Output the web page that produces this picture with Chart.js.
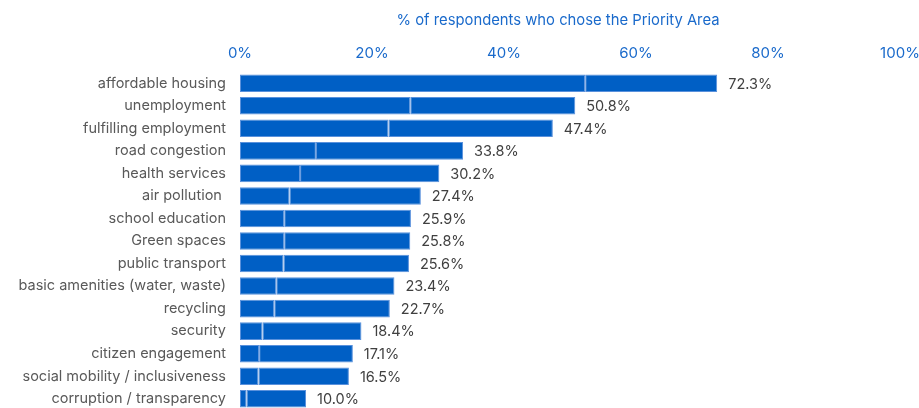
<!DOCTYPE html>
<html lang="en">
<head>
    <meta charset="UTF-8">
    <title>Priority Areas</title>
    <style>
        body { margin: 0; overflow: hidden; background: #fff; }
        #wrap { position: relative; width: 919px; height: 410px; }
    </style>
</head>
<body>
    <div id="wrap">
        <canvas id="myChart"></canvas>
    </div>
</body>
<script src="https://cdn.jsdelivr.net/npm/chart.js@4.4.0/dist/chart.umd.min.js"></script>
<script>
    var areas = ["affordable housing", "unemployment", "fulfilling employment", "road congestion",
        "health services", "air pollution ", "school education", "Green spaces", "public transport",
        "basic amenities (water, waste)", "recycling", "security", "citizen engagement",
        "social mobility / inclusiveness", "corruption / transparency"];
    // total share that chose the area
    var totals = [72.3, 50.8, 47.4, 33.8, 30.2, 27.4, 25.9, 25.8, 25.6, 23.4, 22.7, 18.4, 17.1, 16.5, 10.0];
    // first segment of each bar
    var firstPart = [52.3, 25.8, 22.5, 11.5, 9.1, 7.5, 6.7, 6.7, 6.6, 5.5, 5.2, 3.4, 2.9, 2.8, 1.0];
    var secondPart = totals.map(function (t, i) { return +(t - firstPart[i]).toFixed(1); });
    var xTicks = [0, 20, 40, 60, 80, 100];

    var blue = '#005fc5';
    var edge = '#5a91dc';
    var fontFam = 'Inter, Roboto, sans-serif';

    var labelPlugin = {
        id: 'labelPlugin',
        afterDatasetsDraw: function (chart) {
            var ctx = chart.ctx;
            var meta = chart.getDatasetMeta(1);
            ctx.save();
            ctx.font = '14.5px ' + fontFam;
            ctx.fillStyle = '#404040';
            ctx.textAlign = 'left';
            ctx.textBaseline = 'middle';
            meta.data.forEach(function (bar, i) {
                ctx.fillText(totals[i].toFixed(1) + '%', bar.x + 11, bar.y + 1);
            });
            // axis title
            ctx.font = '14.8px ' + fontFam;
            ctx.fillStyle = '#1a6acb';
            ctx.textAlign = 'center';
            ctx.fillText('% of respondents who chose the Priority Area', 558, 21);
            ctx.restore();
        }
    };

    var ctx = document.getElementById('myChart').getContext('2d');
    var myChart = new Chart(ctx, {
        type: 'bar',
        data: {
            labels: areas,
            datasets: [{
                data: firstPart,
                backgroundColor: blue,
                borderColor: edge,
                borderWidth: 1,
                borderSkipped: false
            }, {
                data: secondPart,
                backgroundColor: blue,
                borderColor: edge,
                borderWidth: 1,
                borderSkipped: false
            }]
        },
        options: {
            indexAxis: 'y',
            responsive: true,
            maintainAspectRatio: false,
            animation: false,
            events: [],
            layout: { padding: 0 },
            datasets: { bar: { categoryPercentage: 0.78, barPercentage: 1 } },
            plugins: {
                legend: { display: false },
                tooltip: { enabled: false }
            },
            scales: {
                x: {
                    position: 'top',
                    stacked: true,
                    min: 0,
                    max: 100,
                    afterBuildTicks: function (scale) {
                        scale.ticks = xTicks.map(function (v) { return { value: v }; });
                    },
                    afterFit: function (scale) {
                        scale.height = 72;
                        scale.paddingRight = 19;
                    },
                    grid: { display: false, drawTicks: false },
                    border: { display: false },
                    ticks: {
                        color: '#1a6acb',
                        font: { family: fontFam, size: 15 },
                        padding: 10,
                        callback: function (v) { return v + '%'; }
                    }
                },
                y: {
                    stacked: true,
                    afterFit: function (scale) {
                        scale.width = 240;
                        scale.paddingTop = 0;
                        scale.paddingBottom = 0;
                    },
                    grid: { display: false, drawTicks: false },
                    border: { display: false },
                    ticks: {
                        color: '#595959',
                        font: { family: fontFam, size: 14.5 },
                        padding: 14
                    }
                }
            }
        },
        plugins: [labelPlugin]
    });
</script>
</html>
